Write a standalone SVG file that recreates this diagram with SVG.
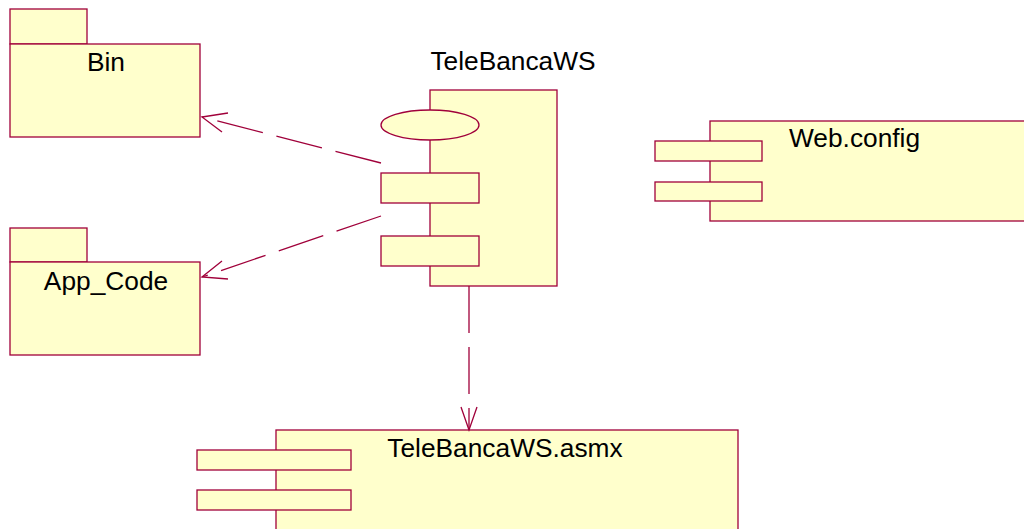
<svg xmlns="http://www.w3.org/2000/svg" width="1024" height="529" viewBox="0 0 1024 529">
<defs>
<style>
.s{fill:#FFFFCC;stroke:#A0003A;stroke-width:1.3}
.t{font-family:"Liberation Sans",Arial,sans-serif;font-size:26.3px;fill:#000}
.c{fill:none;stroke:#A0003A;stroke-width:1.3}
.d{stroke-dasharray:47 14}
</style>
</defs>
<rect width="1024" height="529" fill="#fff"/>
<g id="bin">
<rect class="s" x="10" y="9" width="77" height="35"/>
<rect class="s" x="10" y="44" width="190" height="93"/>
<text class="t" x="106" y="71" text-anchor="middle">Bin</text>
</g>
<g id="appcode">
<rect class="s" x="10" y="228" width="77" height="34"/>
<rect class="s" x="10" y="262" width="190" height="93"/>
<text class="t" x="106" y="290" text-anchor="middle">App_Code</text>
</g>
<g id="telebancaws">
<text class="t" x="513" y="70" text-anchor="middle">TeleBancaWS</text>
<rect class="s" x="430" y="90" width="127" height="196"/>
<ellipse class="s" cx="430" cy="125" rx="49" ry="15"/>
<rect class="s" x="381" y="173" width="98" height="30"/>
<rect class="s" x="381" y="236" width="98" height="30"/>
</g>
<g id="webconfig">
<rect class="s" x="710" y="121" width="330" height="100"/>
<rect class="s" x="655" y="141" width="107" height="20"/>
<rect class="s" x="655" y="182" width="107" height="19"/>
<text class="t" x="789" y="147">Web.config</text>
</g>
<g id="asmx">
<rect class="s" x="276" y="430" width="462" height="120"/>
<rect class="s" x="197" y="450" width="154" height="20"/>
<rect class="s" x="197" y="490" width="154" height="20"/>
<text class="t" x="505" y="457" text-anchor="middle">TeleBancaWS.asmx</text>
</g>
<g id="connectors">
<path class="c d" d="M381,163 L202,117"/>
<path class="c" d="M228,113 L202,117 L222,132"/>
<path class="c d" d="M381,216 L202,277"/>
<path class="c" d="M222,261 L202,277 L228,279"/>
<path class="c d" d="M469,286 L469,430"/>
<path class="c" d="M461,407 L469,430 L477,407"/>
</g>
</svg>
